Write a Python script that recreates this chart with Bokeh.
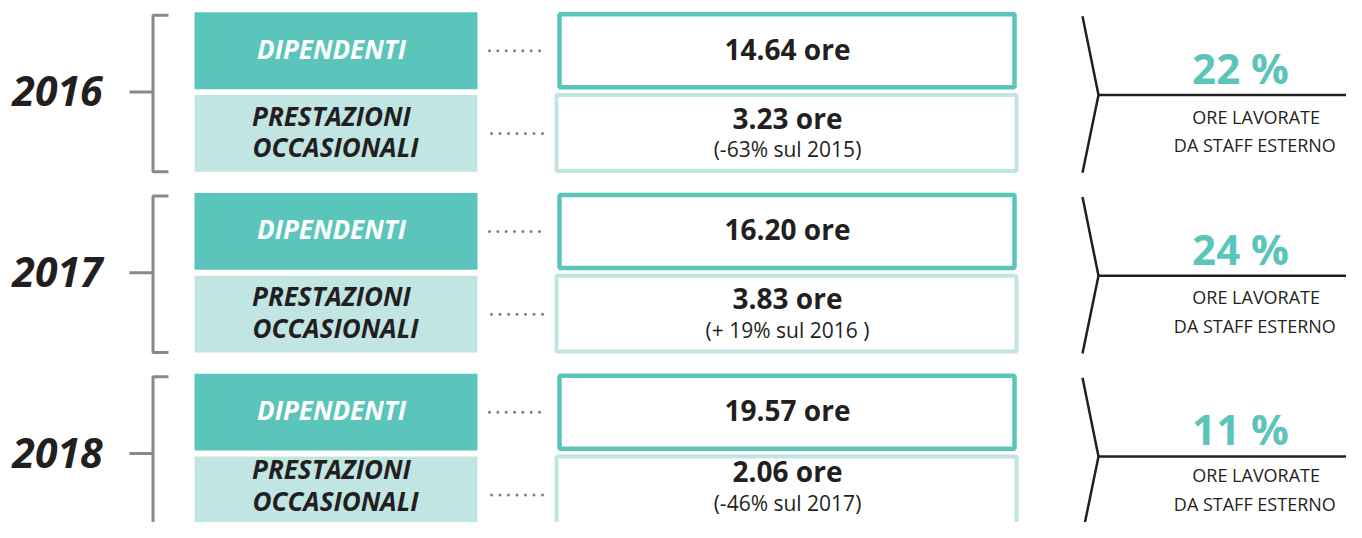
import numpy as np
from bokeh.plotting import figure
from bokeh.models import Range1d
from bokeh.core.properties import value
from bokeh.embed import file_html
from bokeh.resources import INLINE

# ---- data ----
years = ["2016", "2017", "2018"]
categorie = ["DIPENDENTI", "PRESTAZIONI", "OCCASIONALI"]
ore_dipendenti = [14.64, 16.20, 19.57]
ore_occasionali = [3.23, 3.83, 2.06]
variazione_occasionali = ["(-63% sul 2015)", "(+ 19% sul 2016 )", "(-46% sul 2017)"]
quota_staff_esterno = [22, 24, 11]
didascalia = ["ORE  LAVORATE", "DA  STAFF  ESTERNO"]

# ---- style ----
TEAL = "#5bc5bb"
LIGHT = "#c1e5e2"
DARK = "#231f20"
GREY = "#88898b"
FONT = value("Open Sans")

W, H = 1346, 522
p = figure(width=W, height=H, output_backend="svg", toolbar_location=None,
           x_range=Range1d(0, W), y_range=Range1d(530, 0),
           min_border=0, outline_line_color=None)
p.axis.visible = False
p.grid.visible = False
p.background_fill_color = "white"
p.border_fill_color = "white"

n = len(years)
tops = [12 + 183.5 * i for i in range(n)]


def txt(x, y, s, size, color, style="normal"):
    p.text([x], [y], text=[s], text_align="center", text_baseline="middle",
           text_font=FONT, text_font_style=style, text_font_size=size, text_color=color)


for i, t in enumerate(tops):
    # texts of the last row's lower part are nudged up so they stay inside the frame
    lift = 8 if i == n - 1 else 0
    lift_cap = 3 if i == n - 1 else 0
    # bracket
    p.line([168, 152.5, 152.5, 168], [t + 3, t + 3, t + 162, t + 162], line_color=GREY, line_width=3)
    p.line([129, 152.5], [t + 81, t + 81], line_color=GREY, line_width=3)
    # year
    txt(57, t + 80, years[i], "41px", DARK, "bold italic")
    # category boxes
    p.quad(left=[194], right=[477], top=[t], bottom=[t + 78], fill_color=TEAL, line_color=None)
    p.quad(left=[194], right=[477], top=[t + 84], bottom=[t + 162], fill_color=LIGHT, line_color=None)
    txt(331, t + 37, categorie[0], "26px", "white", "bold italic")
    txt(331, t + 105 - lift, categorie[1], "26px", DARK, "bold italic")
    txt(335, t + 137 - lift, categorie[2], "26px", DARK, "bold italic")
    # dotted leaders
    p.scatter(np.linspace(489, 539, 7), [t + 39] * 7, size=3, color="#808080", line_color=None)
    p.scatter(np.linspace(491, 542, 7), [t + 123] * 7, size=3, color="#808080", line_color=None)
    # value boxes
    p.quad(left=[559], right=[1014], top=[t + 2], bottom=[t + 76], fill_color="white",
           line_color=TEAL, line_width=4.5)
    p.quad(left=[556], right=[1016], top=[t + 84], bottom=[t + 161], fill_color="white",
           line_color=LIGHT, line_width=4)
    txt(787, t + 37, f"{ore_dipendenti[i]:.2f} ore", "28px", DARK, "bold")
    txt(787, t + 107 - lift, f"{ore_occasionali[i]:.2f} ore", "28px", DARK, "bold")
    txt(787, t + 139 - lift, variazione_occasionali[i], "21px", DARK)
    # chevron + rule
    p.line([1082, 1098, 1082], [t + 4, t + 84, t + 163], line_color=DARK, line_width=2.5)
    p.line([1098, 1362], [t + 84, t + 84], line_color=DARK, line_width=2.5)
    txt(1240, t + 56, f"{quota_staff_esterno[i]} %", "42px", TEAL, "bold")
    txt(1258, t + 106 - lift_cap, didascalia[0], "18px", DARK)
    txt(1259, t + 135 - lift_cap, didascalia[1], "18px", DARK)

open("out.html", "w").write(file_html(p, INLINE))
